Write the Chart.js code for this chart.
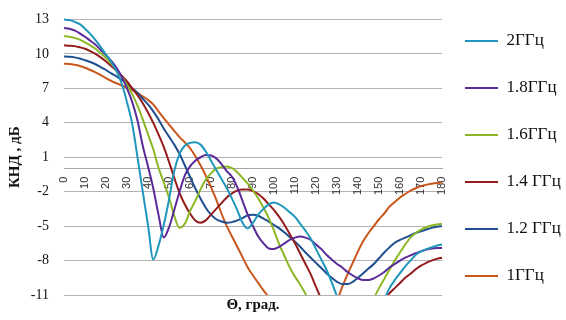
<!DOCTYPE html>
<html>
<head>
<meta charset="utf-8">
<script src="https://cdn.jsdelivr.net/npm/chart.js@4/dist/chart.umd.min.js"></script>
<style>
  html, body { margin: 0; padding: 0; background: #ffffff; }
  canvas { display: block; }
</style>
</head>
<body>
<canvas id="knd" width="566" height="320"></canvas>
<script>
// Angle grid, degrees
const THETA = [0, 2.5, 5, 7.5, 10, 12.5, 15, 17.5, 20, 22.5, 25, 27.5, 30, 32.5, 35, 37.5, 40, 42.5, 45, 47.5,
  50, 52.5, 55, 57.5, 60, 62.5, 65, 67.5, 70, 72.5, 75, 77.5, 80, 82.5, 85, 87.5, 90, 92.5, 95, 97.5,
  100, 102.5, 105, 107.5, 110, 112.5, 115, 117.5, 120, 122.5, 125, 127.5, 130, 132.5, 135, 137.5, 140, 142.5, 145, 147.5,
  150, 152.5, 155, 157.5, 160, 162.5, 165, 167.5, 170, 172.5, 175, 177.5, 180];

// Legend labels
const SERIES_NAMES = ['2ГГц', '1.8ГГц', '1.6ГГц', '1.4 ГГц', '1.2 ГГц', '1ГГц'];

// Directivity, dB
const KND_2_0 = [13.0, 12.95, 12.8, 12.6, 12.2, 11.75, 11.2, 10.6, 9.95, 9.3,
  8.5, 7.4, 5.8, 3.9, 1.0, -2.0, -4.9, -7.9, -6.7, -4.9,
  -2.7, -0.2, 1.3, 2.0, 2.25, 2.3, 2.1, 1.5, 0.7, -0.1,
  -0.9, -1.7, -2.6, -3.6, -4.7, -5.2, -4.7, -4.0, -3.5, -3.1,
  -2.95, -3.1, -3.4, -3.8, -4.2, -4.8, -5.4, -6.1, -7.0, -7.9,
  -8.8, -9.9, -11.1, -12.1, -13.0, -13.6, -14.0, -14.1, -13.9, -13.3,
  -12.4, -11.4, -10.4, -9.7, -9.1, -8.5, -8.0, -7.5, -7.2, -7.0, -6.85, -6.7, -6.6];

const KND_1_8 = [12.25, 12.2, 12.05, 11.8, 11.5, 11.15, 10.8, 10.35, 9.9, 9.4,
  8.8, 8.0, 7.0, 5.8, 4.2, 2.0, 0.2, -1.7, -4.0, -6.0,
  -5.1, -3.6, -2.0, -0.6, 0.2, 0.7, 1.0, 1.2, 1.15, 0.9,
  0.4, -0.2, -0.7, -1.6, -2.8, -4.0, -5.0, -5.9, -6.5, -6.95,
  -7.0, -6.8, -6.5, -6.2, -6.0, -5.9, -6.0, -6.2, -6.6, -7.0,
  -7.5, -7.9, -8.3, -8.6, -9.0, -9.3, -9.55, -9.7, -9.7, -9.55,
  -9.3, -9.0, -8.6, -8.3, -8.0, -7.75, -7.55, -7.35, -7.2, -7.05, -6.95, -6.9, -6.9];

const KND_1_6 = [11.55, 11.5, 11.4, 11.25, 11.0, 10.75, 10.45, 10.05, 9.65, 9.15,
  8.6, 8.0, 7.3, 6.5, 5.5, 4.3, 3.0, 1.7, 0.1, -1.2,
  -2.5, -4.1, -5.15, -4.8, -3.7, -2.8, -1.8, -0.95, -0.4, 0.0,
  0.15, 0.2, 0.05, -0.3, -0.8, -1.3, -1.9, -2.6, -3.4, -4.3,
  -5.4, -6.6, -7.6, -8.6, -9.4, -10.1, -10.9, -11.8, -12.6, -13.3,
  -13.9, -14.3, -14.5, -14.6, -14.5, -14.2, -13.7, -13.0, -12.2, -11.3,
  -10.4, -9.6, -8.8, -8.0, -7.3, -6.6, -6.0, -5.6, -5.3, -5.1, -4.95, -4.85, -4.8];

const KND_1_4 = [10.75, 10.72, 10.68, 10.58, 10.45, 10.25, 10.0, 9.7, 9.35, 8.95,
  8.55, 8.1, 7.6, 7.0, 6.4, 5.7, 4.9, 4.0, 3.0, 1.9,
  0.6, -0.8, -2.1, -3.1, -3.9, -4.5, -4.7, -4.5, -4.0, -3.5,
  -3.0, -2.5, -2.15, -1.9, -1.8, -1.8, -1.95, -2.2, -2.6, -3.1,
  -3.6, -4.2, -4.9, -5.7, -6.5, -7.4, -8.3, -9.2, -10.3, -11.35,
  -12.3, -13.1, -13.7, -14.2, -14.5, -14.6, -14.5, -14.2, -13.7, -13.0,
  -12.2, -11.4, -10.85, -10.4, -9.95, -9.5, -9.15, -8.75, -8.45, -8.2, -8.0, -7.85, -7.75];

const KND_1_2 = [9.78, 9.75, 9.7, 9.6, 9.45, 9.3, 9.1, 8.85, 8.6, 8.3,
  8.05, 7.75, 7.4, 7.0, 6.6, 6.1, 5.6, 5.0, 4.3, 3.5,
  2.8, 2.1, 1.3, 0.3, -0.7, -1.7, -2.6, -3.4, -4.0, -4.4,
  -4.6, -4.7, -4.65, -4.5, -4.3, -4.05, -4.0, -4.1, -4.35, -4.6,
  -4.9, -5.2, -5.55, -5.95, -6.35, -6.8, -7.3, -7.75, -8.2, -8.65,
  -9.1, -9.5, -9.85, -10.05, -10.05, -9.85, -9.5, -9.1, -8.7, -8.3,
  -7.8, -7.3, -6.85, -6.45, -6.2, -6.0, -5.8, -5.6, -5.45, -5.3, -5.15, -5.05, -5.0];

const KND_1_0 = [9.15, 9.12, 9.05, 8.95, 8.8, 8.6, 8.4, 8.15, 7.9, 7.65,
  7.45, 7.25, 7.05, 6.85, 6.6, 6.3, 6.0, 5.6, 5.0, 4.4,
  3.85, 3.3, 2.75, 2.3, 1.8, 1.1, 0.3, -0.6, -1.6, -2.7,
  -3.9, -5.0, -5.9, -6.8, -7.7, -8.6, -9.3, -9.95, -10.6, -11.2,
  -11.9, -12.6, -13.2, -13.7, -14.0, -14.2, -14.3, -14.3, -14.1, -13.7,
  -13.1, -12.4, -11.5, -10.3, -9.2, -8.2, -7.2, -6.3, -5.6, -5.0,
  -4.4, -3.9, -3.3, -2.9, -2.5, -2.2, -1.9, -1.7, -1.5, -1.4, -1.3, -1.25, -1.2];

// Y axis ticks, dB
const Y_MIN = -11;
const Y_MAX = 13;
const Y_STEP = 3;

const COLORS = ['#1f97bd', '#5a2a9a', '#8cb826', '#951c1c', '#1f4f8f', '#c9561b'];
const SERIES = [KND_2_0, KND_1_8, KND_1_6, KND_1_4, KND_1_2, KND_1_0];

const SERIF = '"Liberation Serif", "Times New Roman", serif';

const datasets = SERIES.map((values, i) => ({
  label: SERIES_NAMES[i],
  data: values,
  borderColor: COLORS[i],
  backgroundColor: COLORS[i],
  borderWidth: 2,
  pointRadius: 0,
  pointHoverRadius: 0,
  pointStyle: 'line',
  cubicInterpolationMode: 'monotone',
  fill: false,
  clip: { left: 2, right: 2, top: 2, bottom: 0 }
}));

new Chart(document.getElementById('knd'), {
  type: 'line',
  data: { labels: THETA, datasets },
  options: {
    responsive: false,
    animation: false,
    devicePixelRatio: 1,
    layout: { padding: { left: 0, right: 0, top: 0, bottom: 0 } },
    plugins: {
      tooltip: { enabled: false },
      legend: {
        position: 'right',
        align: 'center',
        maxWidth: 124,
        title: { display: true, text: ' ', font: { size: 4, lineHeight: 1 }, padding: 0 },
        labels: {
          usePointStyle: true,
          pointStyleWidth: 33,
          padding: 23,
          color: '#111111',
          font: { family: SERIF, size: 17, lineHeight: 24 / 17 },
          generateLabels(chart) {
            const items = Chart.defaults.plugins.legend.labels.generateLabels(chart);
            return items.map(it => Object.assign(it, { text: [it.text] }));
          }
        }
      }
    },
    scales: {
      x: {
        type: 'linear',
        position: { y: 0 },
        min: 0,
        max: 180,
        grid: { display: true, drawOnChartArea: false, drawTicks: false },
        border: { display: true, color: '#a6a6a6', width: 1 },
        ticks: {
          stepSize: 10,
          autoSkip: false,
          minRotation: 90,
          maxRotation: 90,
          padding: 8,
          color: '#333333',
          font: { family: '"Liberation Sans", Arial, sans-serif', size: 11 }
        }
      },
      x2: {
        type: 'linear',
        axis: 'x',
        position: 'bottom',
        min: 0,
        max: 180,
        grid: { display: false, drawTicks: false },
        border: { display: false },
        ticks: { display: false },
        title: {
          display: true,
          text: 'Θ, град.',
          color: '#111111',
          font: { family: SERIF, size: 15, weight: 'bold', lineHeight: 1.2 },
          padding: { top: 1, bottom: 6 }
        },
        afterFit(scale) { scale.height = 25; }
      },
      y: {
        type: 'linear',
        position: 'left',
        min: Y_MIN,
        max: Y_MAX,
        grid: { color: '#b3b3b3', lineWidth: 1, drawTicks: false },
        border: { display: false },
        ticks: {
          stepSize: Y_STEP,
          autoSkip: false,
          padding: 15,
          color: '#111111',
          font: { family: SERIF, size: 14, lineHeight: 9 / 14 }
        },
        title: {
          display: true,
          text: 'КНД , дБ',
          color: '#111111',
          font: { family: SERIF, size: 15, weight: 'bold', lineHeight: 1.2 },
          padding: { top: 6, bottom: 0 }
        },
        afterFit(scale) { scale.width = 64; }
      }
    }
  }
});
</script>
</body>
</html>
